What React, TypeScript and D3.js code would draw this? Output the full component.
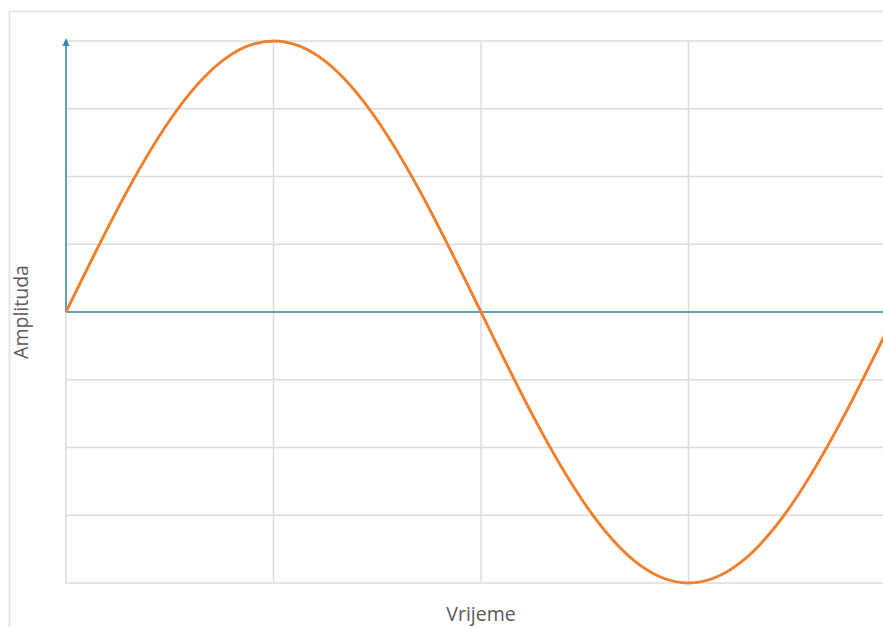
import React from "react";
import * as d3 from "d3";

// Time in grid units (one vertical gridline per unit), amplitude in grid units
const timeValues = [0, 0.25, 0.5, 0.75, 1, 1.25, 1.5, 1.75, 2, 2.25, 2.5, 2.75, 3, 3.25, 3.5, 3.75, 4];
const amplitudeValues = [0, 1.53, 2.83, 3.7, 4, 3.7, 2.83, 1.53, 0, -1.53, -2.83, -3.7, -4, -3.7, -2.83, -1.53, 0];
const xGridTicks = [0, 1, 2, 3, 4];
const yGridTicks = [-4, -3, -2, -1, 0, 1, 2, 3, 4];
const xAxisLabel = "Vrijeme";
const yAxisLabel = "Amplituda";

const W = 883;
const H = 627;
const left = 66;
const top = 41;
const bottom = 583;
const right = 896;

export default function App() {
  const x = d3.scaleLinear().domain([0, 4]).range([left, right]);
  const y = d3.scaleLinear().domain([-4, 4]).range([bottom, top]);
  const pts = timeValues.map((t, i) => [t, amplitudeValues[i]] as [number, number]);
  const line = d3
    .line<[number, number]>()
    .x((d) => x(d[0]))
    .y((d) => y(d[1]))
    .curve(d3.curveNatural);
  const teal = "#2f8aab";
  const grid = "#dcdcdc";
  const font = "'Open Sans', 'Noto Sans', sans-serif";
  return (
    <svg
      width={W}
      height={H}
      style={{ position: "fixed", left: 0, top: 0, display: "block", background: "#fff" }}
    >
      <rect x={9.5} y={11.5} width={W + 20} height={H + 20} fill="#fff" stroke="#e6e6e6" strokeWidth={2} />
      {yGridTicks.map((v) => (
        <line key={"h" + v} x1={left} x2={right} y1={y(v)} y2={y(v)} stroke={grid} strokeWidth={1.5} />
      ))}
      {xGridTicks.map((v) => (
        <line key={"v" + v} x1={x(v)} x2={x(v)} y1={top} y2={bottom} stroke={grid} strokeWidth={1.5} />
      ))}
      <line x1={left} x2={right} y1={y(0)} y2={y(0)} stroke={teal} strokeWidth={1.5} />
      <line x1={left} x2={left} y1={y(0)} y2={top + 2} stroke={teal} strokeWidth={1.5} />
      <path d={`M${left - 3.5},${top + 5} L${left},${top - 3} L${left + 3.5},${top + 5} Z`} fill={teal} />
      <path d={line(pts) || ""} fill="none" stroke="#f0802e" strokeWidth={3} />
      <text
        x={481}
        y={621}
        textAnchor="middle"
        fontFamily={font}
        fontSize={19.5}
        fill="#5a5a5a"
      >
        {xAxisLabel}
      </text>
      <text
        transform={`translate(28,312) rotate(-90)`}
        textAnchor="middle"
        fontFamily={font}
        fontSize={19.5}
        fill="#5a5a5a"
      >
        {yAxisLabel}
      </text>
    </svg>
  );
}
